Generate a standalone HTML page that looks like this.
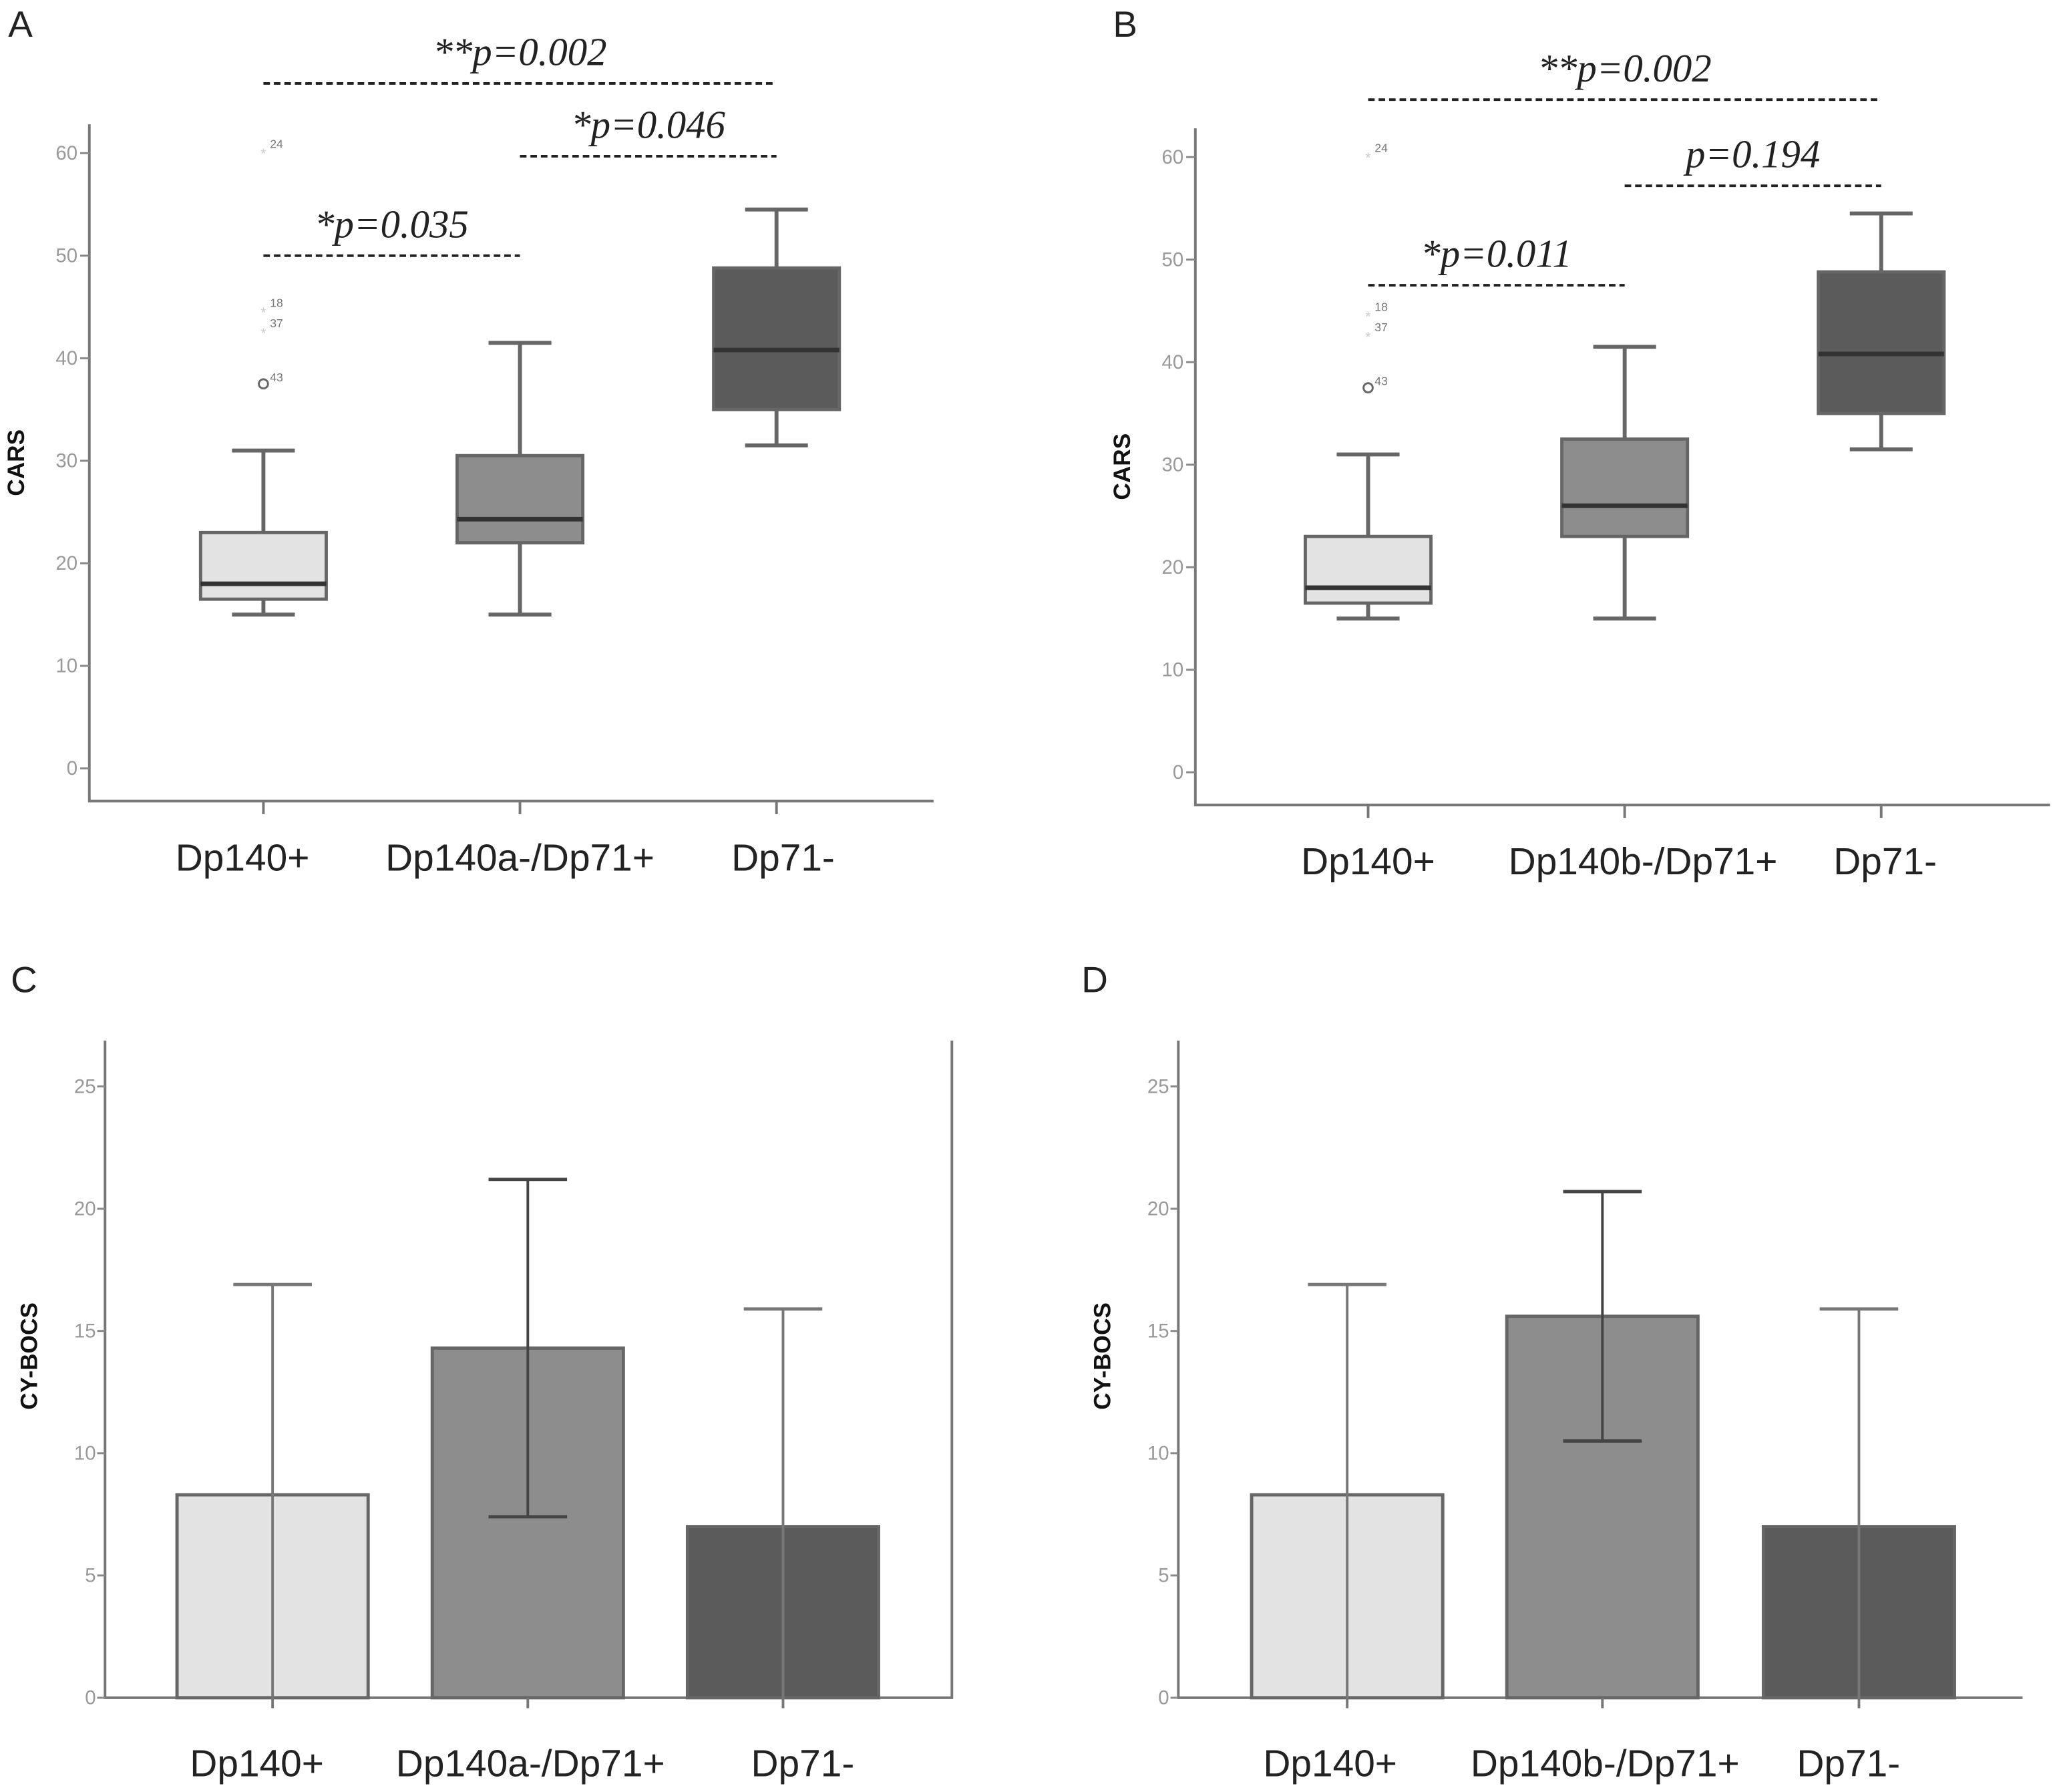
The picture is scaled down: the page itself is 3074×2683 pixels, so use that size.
<!DOCTYPE html>
<html><head><meta charset="utf-8"><style>
html,body{margin:0;padding:0;background:#fff;}
svg{display:block;}
text{font-family:"Liberation Sans",sans-serif;}
text.sig{font-family:"Liberation Serif",serif;font-style:italic;}
</style></head><body>
<svg id="fig" width="3074" height="2683" viewBox="0 0 1568 1369" xmlns="http://www.w3.org/2000/svg">
<rect width="1568" height="1369" fill="#fff"/>
<text x="6" y="28" font-size="28" fill="#222">A</text>
<text x="850" y="28" font-size="28" fill="#222">B</text>
<text x="8" y="758" font-size="28" fill="#222">C</text>
<text x="826" y="758" font-size="28" fill="#222">D</text>
</svg>
<script>
const boxCatsA=["Dp140+","Dp140a-/Dp71+","Dp71-"];
const boxCatsB=["Dp140+","Dp140b-/Dp71+","Dp71-"];
// [min, q1, median, q3, max]
const boxStatsA=[[15,16.5,18,23,31],[15,22,24.3,30.5,41.5],[31.5,35,40.8,48.8,54.5]];
const boxStatsB=[[15,16.5,18,23,31],[15,23,26,32.5,41.5],[31.5,35,40.8,48.8,54.5]];
const outlierVals=[37.5,42.5,44.5,60];
const outlierIds=["43","37","18","24"];
const carsTicks=[0,10,20,30,40,50,60];
const sigA=[{a:0,b:2,v:66.8,t:"**p=0.002"},{a:1,b:2,v:59.7,t:"*p=0.046"},{a:0,b:1,v:50,t:"*p=0.035"}];
const sigB=[{a:0,b:2,v:65.6,t:"**p=0.002"},{a:1,b:2,v:57.2,t:"p=0.194"},{a:0,b:1,v:47.5,t:"*p=0.011"}];
const barCatsC=["Dp140+","Dp140a-/Dp71+","Dp71-"];
const barCatsD=["Dp140+","Dp140b-/Dp71+","Dp71-"];
const barValsC=[8.3,14.3,7.0];
const barValsD=[8.3,15.6,7.0];
const errLowC=[0,7.4,0], errHighC=[16.9,21.2,15.9];
const errLowD=[0,10.5,0], errHighD=[16.9,20.7,15.9];
const bocsTicks=[0,5,10,15,20,25];
const fills=["#e3e3e3","#8d8d8d","#5b5b5b"];

const svg=document.getElementById('fig');
const NS="http://www.w3.org/2000/svg";
function el(tag,attrs,parent,txt){const e=document.createElementNS(NS,tag);for(const k in attrs)e.setAttribute(k,attrs[k]);if(txt!==undefined)e.textContent=txt;(parent||svg).appendChild(e);return e;}

function boxPanel(name,cfg,cats,stats,sigs){
  const g=el('g',{},svg);
  
  
  const y=v=>cfg.y0-(v/60)*(cfg.y0-cfg.y60);
  const x=i=>cfg.cx[i];
  const ax=el('path',{d:`M${cfg.ax},${cfg.top} V${cfg.base} H${cfg.right}`,stroke:'#777',fill:'none','stroke-width':2},g);
  
  
  carsTicks.forEach(t=>{
    el('line',{x1:cfg.ax-7,x2:cfg.ax,y1:y(t),y2:y(t),stroke:'#888','stroke-width':1.5},g);
    const tl=el('text',{x:cfg.ax-9,y:y(t)+5,'font-size':15,fill:'#999','text-anchor':'end'},g,String(t));
    
    
  });
  const yt=el('text',{transform:`translate(${cfg.ax-50},${(cfg.top+cfg.base)/2}) rotate(-90)`,'font-size':18,'font-weight':'bold',fill:'#111','text-anchor':'middle'},g,'CARS');
  
  
  stats.forEach((s,i)=>{
    const cx=x(i),w=96;
    el('line',{x1:cx,x2:cx,y1:cfg.base,y2:cfg.base+10,stroke:'#777','stroke-width':2},g);
    el('line',{x1:cx,x2:cx,y1:y(s[0]),y2:y(s[4]),stroke:'#666','stroke-width':3},g);
    el('line',{x1:cx-24,x2:cx+24,y1:y(s[0]),y2:y(s[0]),stroke:'#666','stroke-width':3},g);
    el('line',{x1:cx-24,x2:cx+24,y1:y(s[4]),y2:y(s[4]),stroke:'#666','stroke-width':3},g);
    const b=el('rect',{x:cx-w/2,y:y(s[3]),width:w,height:y(s[1])-y(s[3]),fill:fills[i],stroke:'#666','stroke-width':2.5},g);
    
    
    el('line',{x1:cx-w/2,x2:cx+w/2,y1:y(s[2]),y2:y(s[2]),stroke:'#333','stroke-width':3.5},g);
    const lbl=el('text',{x:cx+cfg.lo[i],y:cfg.base+53,'font-size':29,fill:'#222','text-anchor':'middle'},g,cats[i]);
    
    
  });
  outlierVals.forEach((v,k)=>{
    if(k===0) el('circle',{cx:x(0),cy:y(v),r:3.5,fill:'none',stroke:'#666','stroke-width':1.5},g);
    else el('text',{x:x(0),y:y(v)+4,'font-size':11,fill:'#ccc','text-anchor':'middle'},g,'*');
    const ot=el('text',{x:x(0)+5,y:y(v)-(k===0?2:4),'font-size':9,fill:'#777'},g,outlierIds[k]);
    
    
  });
  sigs.forEach(s=>{
    const x1=x(s.a),x2=x(s.b);
    el('line',{x1:x1,x2:x2,y1:y(s.v),y2:y(s.v),stroke:'#222','stroke-width':2,'stroke-dasharray':'5,3'},g);
    const st=el('text',{x:(x1+x2)/2,y:y(s.v)-14,'font-size':30,'class':'sig',fill:'#222','text-anchor':'middle'},g,s.t);
    
    
  });
}

function barPanel(name,cfg,cats,vals,lo,hi){
  const g=el('g',{},svg);
  
  
  const y=v=>cfg.y0-(v/25)*(cfg.y0-cfg.y25);
  const ax=el('path',{d:`M${cfg.ax},${cfg.top} V${cfg.y0} H${cfg.right}`+(cfg.frame?` M${cfg.right-1},${cfg.top} V${cfg.y0}`:''),stroke:'#777',fill:'none','stroke-width':2},g);
  
  
  bocsTicks.forEach(t=>{
    el('line',{x1:cfg.ax-6,x2:cfg.ax,y1:y(t),y2:y(t),stroke:'#888','stroke-width':1.5},g);
    const tl=el('text',{x:cfg.ax-7,y:y(t)+5,'font-size':15,fill:'#999','text-anchor':'end'},g,String(t));
    
    
  });
  const yt=el('text',{transform:`translate(${cfg.ax-52},${1036}) rotate(-90)`,'font-size':18,'font-weight':'bold',fill:'#111','text-anchor':'middle'},g,'CY-BOCS');
  
  
  vals.forEach((v,i)=>{
    const cx=cfg.cx[i],w=146;
    const b=el('rect',{x:cx-w/2,y:y(v),width:w,height:y(0)-y(v),fill:fills[i],stroke:'#666','stroke-width':2.5},g);
    
    
    const ec=i===1?'#444':'#777';
    el('line',{x1:cx,x2:cx,y1:y(lo[i]),y2:y(hi[i]),stroke:ec,'stroke-width':2},g);
    el('line',{x1:cx-30,x2:cx+30,y1:y(hi[i]),y2:y(hi[i]),stroke:ec,'stroke-width':2.5},g);
    if(lo[i]>0) el('line',{x1:cx-30,x2:cx+30,y1:y(lo[i]),y2:y(lo[i]),stroke:ec,'stroke-width':2.5},g);
    el('line',{x1:cx,x2:cx,y1:y(0),y2:y(0)+8,stroke:'#777','stroke-width':2},g);
    const lbl=el('text',{x:cx+cfg.lo[i],y:cfg.y0+60,'font-size':29,fill:'#222','text-anchor':'middle'},g,cats[i]);
    
    
  });
}

boxPanel('panel-a-cars-boxplot',{ax:68,top:95,base:612,right:713,y0:587,y60:117,cx:[201,397,593],lo:[-16,0,5]},boxCatsA,boxStatsA,sigA);
boxPanel('panel-b-cars-boxplot',{ax:913,top:98,base:615,right:1566,y0:590,y60:120,cx:[1045,1241,1437],lo:[0,14,3]},boxCatsB,boxStatsB,sigB);
barPanel('panel-c-cybocs-bar',{ax:80,top:795,right:728,y0:1297,y25:830,cx:[208,403,598],lo:[-12,2,15],frame:true},barCatsC,barValsC,errLowC,errHighC);
barPanel('panel-d-cybocs-bar',{ax:900,top:795,right:1545,y0:1297,y25:830,cx:[1029,1224,1420],lo:[-13,2,-8],frame:false},barCatsD,barValsD,errLowD,errHighD);
</script>
</body></html>
